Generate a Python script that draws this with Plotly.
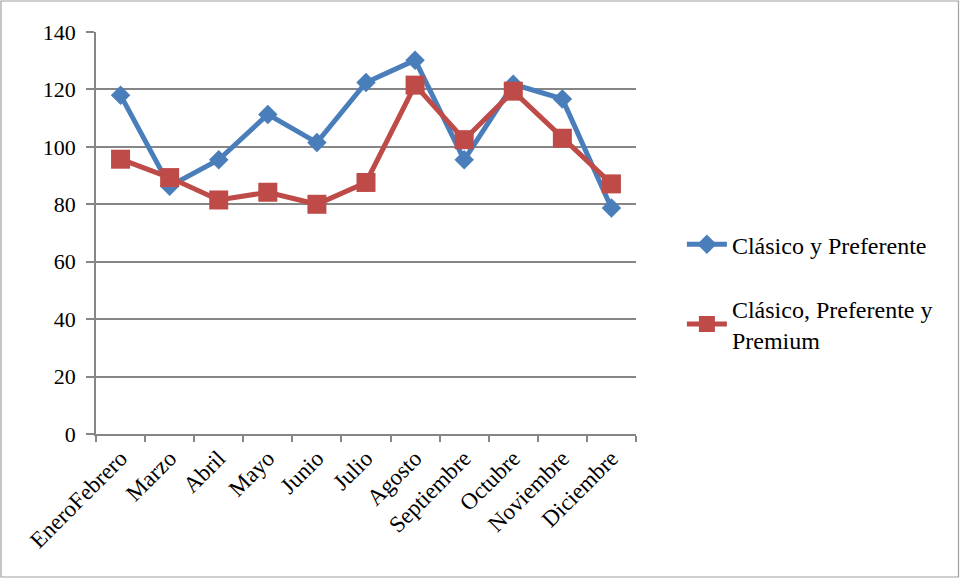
import plotly.graph_objects as go

categorias = ["EneroFebrero", "Marzo", "Abril", "Mayo", "Junio", "Julio",
              "Agosto", "Septiembre", "Octubre", "Noviembre", "Diciembre"]
clasico_preferente = [118.0, 86.3, 95.5, 111.3, 101.5, 122.4,
                      130.2, 95.5, 121.8, 116.7, 78.7]
clasico_preferente_premium = [95.7, 89.3, 81.5, 84.2, 80.0, 87.6,
                              121.5, 102.5, 119.4, 103.0, 87.1]

nombres = ["Clásico y Preferente", "Clásico, Preferente y<br>Premium"]
colores = ["#4A7EBB", "#BE4B48"]
y_ticks = [0, 20, 40, 60, 80, 100, 120, 140]

FONT = "Liberation Serif, Times New Roman, serif"

fig = go.Figure()
fig.add_trace(go.Scatter(
    x=categorias, y=clasico_preferente, name=nombres[0],
    mode="lines+markers", legendgroup="a",
    line=dict(color=colores[0], width=5),
    marker=dict(symbol="diamond", size=15, color=colores[0]),
))
fig.add_trace(go.Scatter(
    x=categorias, y=clasico_preferente_premium, name=nombres[1],
    mode="lines+markers", legendgroup="b",
    line=dict(color=colores[1], width=5),
    marker=dict(symbol="square", size=19, color=colores[1]),
))

L, R, T, B = 96, 324, 32, 144
W, H = 960, 578
pw, ph = W - L - R, H - T - B

# outer chart frame
fig.add_shape(
    type="rect", xref="paper", yref="paper",
    x0=(1 - L) / pw, x1=(958.5 - L) / pw,
    y0=-(B - 1) / ph, y1=1 + (T - 1) / ph,
    line=dict(color="#A0A0A0", width=1.2), fillcolor="rgba(0,0,0,0)",
    layer="below",
)

fig.update_layout(
    width=W, height=H,
    margin=dict(l=L, r=R, t=T, b=B),
    paper_bgcolor="white", plot_bgcolor="white",
    font=dict(family=FONT, size=22, color="black"),
    showlegend=True,
    legend=dict(
        x=1.085, y=0.527, xanchor="left", yanchor="top",
        font=dict(family=FONT, size=24, color="black"),
        traceorder="grouped", tracegroupgap=30, itemwidth=40,
        bgcolor="rgba(0,0,0,0)",
    ),
    xaxis=dict(
        type="category", tickangle=-45, range=[-0.5, 10.5],
        showline=True, linecolor="#868686", linewidth=1.5,
        ticks="outside", tickson="boundaries", ticklen=6,
        tickcolor="#868686", tickwidth=1.5,
        showgrid=False, zeroline=False,
        tickfont=dict(family=FONT, size=23, color="black"),
    ),
    yaxis=dict(
        range=[0, 140], tickvals=y_ticks,
        showline=True, linecolor="#868686", linewidth=1.5,
        ticks="outside", ticklen=8, tickcolor="#868686", tickwidth=1.5,
        showgrid=True, gridcolor="#868686", gridwidth=1.5,
        zeroline=False,
        tickfont=dict(family=FONT, size=22, color="black"),
        ticklabelstandoff=6,
    ),
)

fig.write_html("out.html")
